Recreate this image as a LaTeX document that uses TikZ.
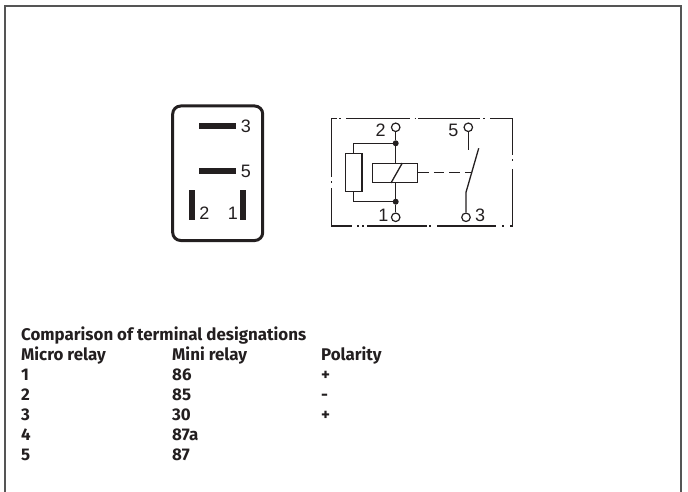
\documentclass[tikz,border=0pt]{standalone}
\usepackage{fontspec}
\newfontfamily\pinfont{Liberation Sans}
\newfontfamily\tablefont{Fira Sans}
\definecolor{inkdark}{HTML}{231F20}
\definecolor{framegray}{HTML}{555555}
\begin{document}
\begin{tikzpicture}[x=1pt,y=-1pt,
        pin label/.style={font=\pinfont\fontsize{18}{20}\selectfont, text=inkdark, inner sep=0pt},
        cell/.style={font=\tablefont\bfseries\fontsize{16.9}{18}\selectfont, text=inkdark, anchor=base west, inner sep=0pt},
        blade/.style={fill=inkdark},
        wire/.style={draw=inkdark, line width=1.3pt},
        terminal/.style={circle, draw=inkdark, line width=1.2pt, fill=white, minimum size=8.5pt, inner sep=0pt},
        junction/.style={circle, fill=inkdark, minimum size=6pt, inner sep=0pt}]
        \useasboundingbox (0,0) rectangle (688,492);

        % outer frame, open at the bottom
        \draw[framegray, line width=2pt] (5,492) -- (5,6.5) -- (680.5,6.5) -- (680.5,492);

        % socket view
        \draw[inkdark, line width=3pt, rounded corners=8pt] (172.7,106) rectangle (262.7,240.5);
        \fill[blade] (199,123.3) rectangle (236,128.7);
        \fill[blade] (199,168.2) rectangle (236,173.8);
        \fill[blade] (189,190) rectangle (195,220);
        \fill[blade] (240,190) rectangle (246,220);
        \node[pin label] (pin three) at (245.8,126) {3};
        \node[pin label] (pin five) at (245.8,171.5) {5};
        \node[pin label] (pin two) at (204.5,213.5) {2};
        \node[pin label] (pin one) at (233,213.5) {1};

        % dash-dot housing of the circuit
        \foreach \a/\b in {331/337,339/340.5,346/410,414.5/416,418/480,483/485,490/512.7}
          \draw[wire] (\a,118.3) -- (\b,118.3);
        \foreach \a/\b in {331/352,357/358.5,362/363.5,367/427,429/430.5,437/496,502/503.5,510/512.7}
          \draw[wire] (\a,226) -- (\b,226);
        \foreach \a/\b in {118.3/177,181/183,188/226}
          \draw[wire] (331.3,\a) -- (331.3,\b);
        \foreach \a/\b in {118.3/155,159.5/161.5,169/226}
          \draw[wire] (512.7,\a) -- (512.7,\b);

        % circuit
        \node[terminal] (term two) at (395.7,127.3) {};
        \node[terminal] (term one) at (395.7,217.3) {};
        \node[terminal] (term five) at (468.3,127.3) {};
        \node[terminal] (term three) at (466,217.3) {};
        \node[junction] (dot top) at (395.7,143.3) {};
        \node[junction] (dot bottom) at (395.7,201.7) {};
        \node[wire, minimum width=45.4pt, minimum height=18.6pt, inner sep=0pt] (coil) at (395,173) {};
        \node[wire, minimum width=16.3pt, minimum height=38.4pt, inner sep=0pt] (resistor) at (353.8,172.5) {};
        \coordinate (contact end) at (468.3,150);
        \coordinate (blade top) at (478.7,148.3);
        \coordinate (blade bottom) at (466,192.3);
        \coordinate (blade mid) at (471.7,172.7);

        \draw[wire] (term two) -- (dot top) -- (dot top |- coil.north);
        \draw[wire] (term one) -- (dot bottom) -- (dot bottom |- coil.south);
        \draw[wire] (dot top) -| (resistor.north);
        \draw[wire] (dot bottom) -| (resistor.south);
        \draw[wire] ([xshift=-4pt]coil.south) -- ([xshift=7.3pt]coil.north);
        \draw[wire] (term five) -- (contact end);
        \draw[wire] (term three) -- (blade bottom) -- (blade top);
        \draw[wire, dash pattern=on 10.5pt off 5pt] (coil.east |- blade mid) -- (blade mid);

        \node[pin label] (label two) at (380.7,130) {2};
        \node[pin label] (label five) at (453.3,130) {5};
        \node[pin label] (label one) at (383.3,215.7) {1};
        \node[pin label] (label three) at (480,215.7) {3};

        % terminal table
        \node[cell] (title) at (21,340) {Comparison of terminal designations};
        \node[cell] (head micro) at (21,360) {Micro relay};
        \node[cell] (head mini) at (172,360) {Mini relay};
        \node[cell] (head pol) at (321,360) {Polarity};
        \foreach \y/\mi/\mn in {380/1/86,400/2/85,420/3/30,440/4/87a,460/5/87} {
          \node[cell] (micro \mi) at (21,\y) {\mi};
          \node[cell] (mini \mi) at (172,\y) {\mn};
        }
        \node[cell] (pol one) at (321,380) {+};
        \node[cell] (pol two) at (321,400) {-};
        \node[cell] (pol three) at (321,420) {+};
\end{tikzpicture}
\end{document}
